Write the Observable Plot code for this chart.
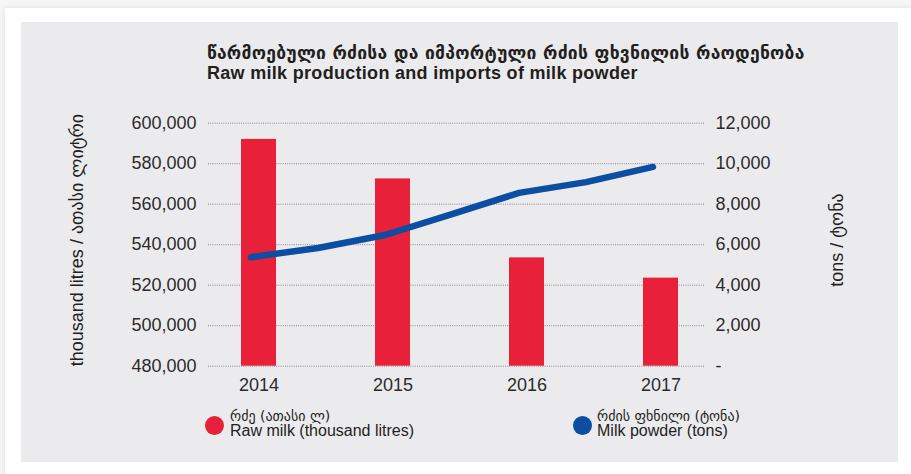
<!DOCTYPE html>
<html><head><meta charset="utf-8">
<script src="https://cdn.jsdelivr.net/npm/d3@7"></script>
<script src="https://cdn.jsdelivr.net/npm/@observablehq/plot@0.6"></script>
<style>
body{margin:0;background:#fff;font-family:"Liberation Sans","DejaVu Sans",Arial,sans-serif;color:#231f20;}
#root{position:relative;width:911px;height:474px;overflow:hidden;background:#f6f6f6;}
.card{position:absolute;left:5px;top:8px;width:930px;height:490px;background:#fff;box-shadow:0 0 5px rgba(0,0,0,0.10);}
.panel{position:absolute;left:21px;top:22px;width:877px;height:440px;background:#ebebee;}
#chart{position:absolute;left:0;top:0;}
.abs{position:absolute;white-space:nowrap;line-height:1;}
.t1{left:207px;top:45px;font-size:17.5px;letter-spacing:0.25px;font-weight:bold;font-family:"DejaVu Sans","Liberation Sans",sans-serif;}
.t2{left:207px;top:64px;font-size:18px;letter-spacing:0.3px;font-weight:bold;}
.ylab{font-size:18px;transform:translate(-50%,-50%) rotate(-90deg);}
.dot{position:absolute;border-radius:50%;}
.lg1{font-size:14px;font-family:"DejaVu Sans","Liberation Sans",sans-serif;}
.lg2{font-size:16px;}
</style></head>
<body>
<div id="root">
  <div class="card"></div>
  <div class="panel"></div>
  <div id="chart"></div>
  <div class="abs t1" id="title1"></div>
  <div class="abs t2" id="title2"></div>
  <div class="abs ylab" id="yl" style="left:77px;top:240px;"></div>
  <div class="abs ylab" id="yr" style="left:837px;top:240px;"></div>
  <div class="dot" id="dot1" style="left:204.5px;top:415.5px;width:19px;height:19px;"></div>
  <div class="abs lg1" id="lg1a" style="left:230px;top:408.5px;"></div>
  <div class="abs lg2" id="lg1b" style="left:230px;top:423px;"></div>
  <div class="dot" id="dot2" style="left:572.5px;top:415.5px;width:19px;height:19px;"></div>
  <div class="abs lg1" id="lg2a" style="left:597px;top:408.5px;"></div>
  <div class="abs lg2" id="lg2b" style="left:597px;top:423px;"></div>
</div>
<script>
// ---- data ----
const years = [2014, 2015, 2016, 2017];
const rawMilk = [592000, 572500, 533500, 523500];           // thousand litres
const powderPeriods = [2014, 2014.5, 2015, 2015.5, 2016, 2016.5, 2017];
const milkPowder = [5380, 5840, 6480, 7510, 8560, 9090, 9840]; // tons
const leftTicks = [480000, 500000, 520000, 540000, 560000, 580000, 600000];
const rightTicks = [0, 2000, 4000, 6000, 8000, 10000, 12000];
const titleKa = "წარმოებული რძისა და იმპორტული რძის ფხვნილის რაოდენობა";
const titleEn = "Raw milk production and imports of milk powder";
const leftLabel = "thousand litres / ათასი ლიტრი";
const rightLabel = "tons / ტონა";
const seriesNames = [
  {ka: "რძე (ათასი ლ)", en: "Raw milk (thousand litres)", color: "#e8203a"},
  {ka: "რძის ფხნილი (ტონა)", en: "Milk powder (tons)", color: "#0b4ea2"}
];

// ---- build ----
const milkData = years.map((y, i) => ({year: y, value: rawMilk[i]}));
const powderData = powderPeriods.map((p, i) => ({period: p, value: milkPowder[i]}));
const L0 = leftTicks[0], L1 = leftTicks[leftTicks.length - 1];
const R0 = rightTicks[0], R1 = rightTicks[rightTicks.length - 1];
const toLeft = v => L0 + (v - R0) * (L1 - L0) / (R1 - R0);
const fromLeft = v => R0 + (v - L0) * (R1 - R0) / (L1 - L0);
const fmt = d3.format(",");

const chart = Plot.plot({
  width: 911, height: 474,
  marginTop: 122.7, marginBottom: 108.3, marginLeft: 208, marginRight: 206,
  style: {background: "transparent", fontFamily: "'Liberation Sans', Arial, sans-serif", fontSize: "18px", color: "#2b2b2b", overflow: "visible"},
  x: {type: "linear", domain: [2013.623, 2017.332]},
  y: {domain: [L0, L1]},
  marks: [
    Plot.ruleY(leftTicks, {stroke: "#8a8a8a", strokeDasharray: "1,1.2", strokeWidth: 1}),
    Plot.rectY(milkData, {x1: d => d.year - 0.1306, x2: d => d.year + 0.1306, y1: L0, y2: "value", fill: seriesNames[0].color}),
    Plot.line(powderData, {x: "period", y: d => toLeft(d.value), stroke: seriesNames[1].color, strokeWidth: 6.5, dx: -8, curve: "linear"}),
    Plot.axisY(leftTicks, {anchor: "left", tickSize: 0, tickPadding: 12, tickFormat: fmt, label: null, fontSize: 18}),
    Plot.axisY(rightTicks.map(toLeft), {anchor: "right", tickSize: 0, tickPadding: 10, label: null, fontSize: 18,
      tickFormat: v => { const r = Math.round(fromLeft(v)); return r === 0 ? "-" : fmt(r); }}),
    Plot.axisX(years, {anchor: "bottom", tickSize: 0, tickPadding: 12, tickFormat: d => String(d), label: null, fontSize: 18})
  ]
});
document.getElementById("chart").appendChild(chart);
document.getElementById("title1").textContent = titleKa;
document.getElementById("title2").textContent = titleEn;
document.getElementById("yl").textContent = leftLabel;
document.getElementById("yr").textContent = rightLabel;
document.getElementById("dot1").style.background = seriesNames[0].color;
document.getElementById("dot2").style.background = seriesNames[1].color;
document.getElementById("lg1a").textContent = seriesNames[0].ka;
document.getElementById("lg1b").textContent = seriesNames[0].en;
document.getElementById("lg2a").textContent = seriesNames[1].ka;
document.getElementById("lg2b").textContent = seriesNames[1].en;
</script>
</body></html>
